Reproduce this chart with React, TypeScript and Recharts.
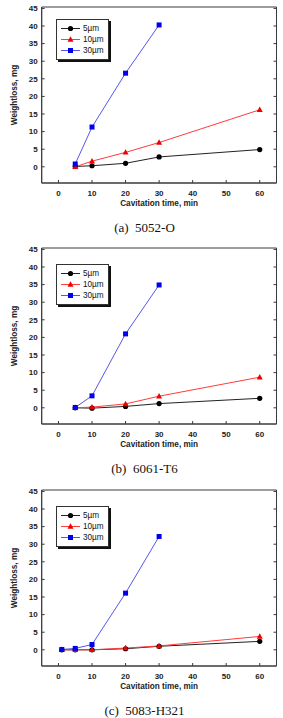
import { LineChart, Line, XAxis, YAxis, Legend, ReferenceArea } from 'recharts'

// cavitation time, min
const timesA = [5, 10, 20, 30, 60]
const timesB = [5, 10, 20, 30, 60]
const timesC = [1, 5, 10, 20, 30, 60]

// weightloss, mg — (a) 5052-O
const a5 = [0.1, 0.3, 1.0, 2.8, 4.9]
const a10 = [0, 1.6, 4.1, 6.9, 16.2]
const a30 = [0.8, 11.3, 26.6, 40.3]

// (b) 6061-T6
const b5 = [0, -0.1, 0.4, 1.2, 2.7]
const b10 = [0, 0.2, 1.1, 3.3, 8.7]
const b30 = [0.1, 3.4, 21.0, 34.9]

// (c) 5083-H321
const c5 = [0, 0, 0, 0.3, 1.0, 2.4]
const c10 = [0, 0, 0, 0.5, 1.1, 3.8]
const c30 = [0.1, 0.4, 1.5, 16.1, 32.2]

const seriesNames = ['5µm', '10µm', '30µm']
const captions = ['(a)  5052-O', '(b)  6061-T6', '(c)  5083-H321']
const xTicks = [0, 10, 20, 30, 40, 50, 60]
const yTicks = [0, 5, 10, 15, 20, 25, 30, 35, 40, 45]
const xDomain = [-5, 65]
const yDomain = [-4.6, 45.4]

const SANS = '"Liberation Sans", Arial, sans-serif'
const SERIF = '"Liberation Serif", "Times New Roman", serif'
const AXIS = '#3a3a3a'

const toRows = (times: number[], vals: number[]) =>
  vals.map((w, i) => ({ t: times[i], w }))

const panels = [
  { top: 0, legendTop: 19, data: [toRows(timesA, a5), toRows(timesA, a10), toRows(timesA, a30)] },
  { top: 241, legendTop: 23, data: [toRows(timesB, b5), toRows(timesB, b10), toRows(timesB, b30)] },
  { top: 482.6, legendTop: 23.5, data: [toRows(timesC, c5), toRows(timesC, c10), toRows(timesC, c30)] }
]

const styles = [
  { line: '#222222', fill: '#000000', shape: 'circle' },
  { line: '#ff3b3b', fill: '#ee0000', shape: 'triangle' },
  { line: '#5656ee', fill: '#0000ee', shape: 'square' }
]

const marker = (shape: string, x: number, y: number, fill: string, key?: any) => {
  if (shape === 'circle') return <circle key={key} cx={x} cy={y} r={2.6} fill={fill} />
  if (shape === 'triangle')
    return <path key={key} d={`M${x},${y - 3.2} L${x + 3},${y + 2.2} L${x - 3},${y + 2.2} Z`} fill={fill} />
  return <rect key={key} x={x - 2.5} y={y - 2.5} width={5} height={5} fill={fill} />
}

const LeftTick = (p: any) => (
  <g>
    <line x1={p.x} y1={p.y} x2={p.x + 3} y2={p.y} stroke={AXIS} />
    <text x={p.x - 4} y={p.y} dy="0.35em" textAnchor="end" fontSize={8} fontWeight="bold" fontFamily={SANS} fill="#222">
      {p.payload.value}
    </text>
  </g>
)

const RightTick = (p: any) => <line x1={p.x} y1={p.y} x2={p.x - 3} y2={p.y} stroke={AXIS} />

const BottomTick = (p: any) => (
  <g>
    <line x1={p.x} y1={p.y} x2={p.x} y2={p.y - 3} stroke={AXIS} />
    <text x={p.x} y={p.y + 13} textAnchor="middle" fontSize={8} fontWeight="bold" fontFamily={SANS} fill="#222">
      {p.payload.value}
    </text>
  </g>
)

const LegendBox = () => (
  <div
    style={{
      width: 51,
      height: 36,
      border: '1px solid #333',
      background: '#fff',
      boxShadow: '2px 2px 0 #111',
      paddingTop: 3,
      boxSizing: 'content-box'
    }}
  >
    {seriesNames.map((name, i) => (
      <div key={name} style={{ display: 'flex', alignItems: 'center', height: 11 }}>
        <svg width={26} height={11} style={{ display: 'block' }}>
          <line x1={4} y1={5.5} x2={23} y2={5.5} stroke={styles[i].line} strokeWidth={1} />
          {marker(styles[i].shape, 13.5, 5.5, styles[i].fill)}
        </svg>
        <span style={{ fontFamily: SANS, fontSize: 8.2, color: '#111', lineHeight: '11px' }}>{name}</span>
      </div>
    ))}
  </div>
)

function Panel({ panel, caption }: { panel: (typeof panels)[number]; caption: string }) {
  return (
    <div style={{ position: 'absolute', left: 0, top: panel.top, width: 283, height: 241 }}>
      <LineChart width={283} height={215} margin={{ top: 7, right: 5.5, bottom: 0, left: 0 }}>
        <XAxis
          xAxisId="b"
          type="number"
          dataKey="t"
          domain={xDomain}
          ticks={xTicks}
          interval={0}
          allowDataOverflow
          height={32}
          tickSize={0}
          tickMargin={0}
          tickLine={false}
          tick={BottomTick}
          axisLine={{ stroke: AXIS }}
          label={{
            value: 'Cavitation time, min',
            position: 'insideBottom',
            offset: 9,
            fontSize: 8.2,
            fontWeight: 'bold',
            fontFamily: SANS,
            fill: '#222'
          }}
        />
        <YAxis
          yAxisId="l"
          type="number"
          domain={yDomain}
          ticks={yTicks}
          interval={0}
          allowDataOverflow
          width={41.7}
          tickSize={0}
          tickMargin={0}
          tickLine={false}
          tick={LeftTick}
          axisLine={{ stroke: AXIS }}
          label={{
            value: 'Weightloss, mg',
            angle: -90,
            position: 'insideLeft',
            offset: 14,
            textAnchor: 'middle',
            fontSize: 8.2,
            fontWeight: 'bold',
            fontFamily: SANS,
            fill: '#222'
          }}
        />
        <YAxis
          yAxisId="r"
          orientation="right"
          type="number"
          domain={yDomain}
          ticks={yTicks}
          interval={0}
          allowDataOverflow
          width={1}
          tickSize={0}
          tickMargin={0}
          tickLine={false}
          tick={RightTick}
          axisLine={false}
        />
        <ReferenceArea
          xAxisId="b"
          yAxisId="l"
          x1={xDomain[0]}
          x2={xDomain[1]}
          y1={yDomain[0]}
          y2={yDomain[1]}
          fill="none"
          fillOpacity={0}
          stroke={AXIS}
          strokeWidth={1}
        />
        <Legend
          layout="vertical"
          align="center"
          verticalAlign="middle"
          content={LegendBox}
          wrapperStyle={{ left: 56, top: panel.legendTop, width: 'auto', height: 'auto' }}
        />
        {panel.data.map((rows, i) => (
          <Line
            key={seriesNames[i]}
            xAxisId="b"
            yAxisId="l"
            data={rows}
            dataKey="w"
            name={seriesNames[i]}
            type="linear"
            stroke={styles[i].line}
            strokeWidth={1}
            dot={(d: any) => marker(styles[i].shape, d.cx, d.cy, styles[i].fill, d.index)}
            activeDot={false}
            isAnimationActive={false}
          />
        ))}
      </LineChart>
      <div
        style={{
          position: 'absolute',
          left: 0,
          top: 219,
          width: 283,
          paddingLeft: 6,
          boxSizing: 'border-box',
          textAlign: 'center',
          fontFamily: SERIF,
          fontSize: 13,
          lineHeight: '18px',
          whiteSpace: 'pre',
          color: '#111'
        }}
      >
        {caption}
      </div>
    </div>
  )
}

export default function App() {
  return (
    <div style={{ position: 'absolute', left: 0, top: 0, width: 283, height: 718, background: '#fff' }}>
      {panels.map((p, i) => (
        <Panel key={i} panel={p} caption={captions[i]} />
      ))}
    </div>
  )
}
